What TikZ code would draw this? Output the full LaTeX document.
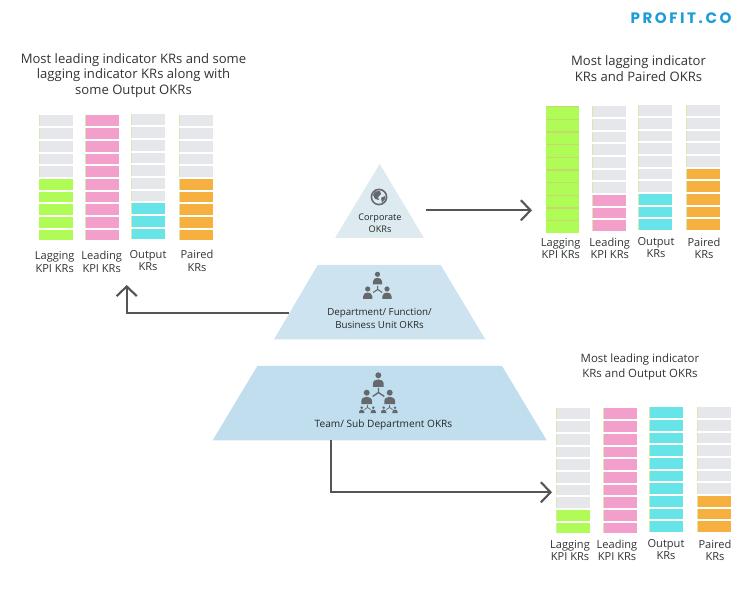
\documentclass[tikz,border=0pt]{standalone}
\usepackage{fontspec}
\usepackage{tikz}
\usetikzlibrary{arrows.meta}
\setmainfont{Open Sans}
\newfontfamily\logofont[LetterSpace=17]{Poppins}

\definecolor{krgray}{HTML}{E6E7EA}
\definecolor{krstrip}{HTML}{D8E8AC}
\definecolor{krgreen}{HTML}{AEFC55}
\definecolor{krline}{HTML}{C4DA6E}
\definecolor{krpink}{HTML}{F29FCB}
\definecolor{krcyan}{HTML}{67E4E8}
\definecolor{krorange}{HTML}{F5B040}
\definecolor{corpblue}{HTML}{DDEAF0}
\definecolor{deptblue}{HTML}{CDE4F0}
\definecolor{teamblue}{HTML}{C1DEEF}
\definecolor{icongray}{HTML}{66696C}
\definecolor{arrowgray}{HTML}{555555}
\definecolor{txtgray}{HTML}{303335}
\definecolor{logoblue}{HTML}{1C9CD8}

% столбик: x, верх, сколько закрашено, цвет
\newcommand{\krstack}[4]{
    \foreach \i in {0,...,9} {
        \pgfmathsetmacro{\celly}{#2+12.67*\i+0.2}
        \pgfmathtruncatemacro{\isfilled}{\i>=10-#3}
        \ifnum\isfilled=1 \def\cellcol{#4}\else\def\cellcol{krgray}\fi
        \fill[\cellcol] (#1,\celly) rectangle ++(34.3,10.9);
        \fill[krstrip] (#1,\celly) rectangle ++(1,10.9);
    }
}
% столбик целиком зелёный
\newcommand{\krsolid}[4]{
    \foreach \i in {0,...,9} {
        \pgfmathsetmacro{\celly}{#2+12.67*\i+0.2}
        \pgfmathtruncatemacro{\isfilled}{\i>=10-#3}
        \ifnum\isfilled=1 \def\cellcol{#4}\else\def\cellcol{krgray}\fi
        \fill[\cellcol] (#1,\celly) rectangle ++(34.3,10.9);
    }
}
% человечек: x, y головы, масштаб
\newcommand{\person}[3]{
    \begin{scope}[shift={(#1,#2)},scale=#3]
        \fill[icongray] (0,0) circle (2.6);
        \fill[icongray] (-4.7,10) -- (-4.7,7.5) .. controls (-4.7,4.5) and (-2,3.6) .. (0,3.6)
            .. controls (2,3.6) and (4.7,4.5) .. (4.7,7.5) -- (4.7,10) -- cycle;
    \end{scope}
}
% развилка под человечком
\newcommand{\branch}[3]{
    \draw[icongray,line width=#3*0.6pt] (#1,#2) -- ++(0,3.5*#3) -- ++(-4.5*#3,3*#3) ++(4.5*#3,-3*#3) -- ++(4.5*#3,3*#3);
}

\begin{document}
\begin{tikzpicture}[x=0.02cm,y=-0.02cm,>={Straight Barb[length=5.5pt,width=11.5pt]},
    krlabel/.style={align=center,inner sep=0pt,text=txtgray,font=\fontsize{6.3}{7.1}\selectfont},
    heading/.style={align=center,inner sep=0pt,text=txtgray,font=\fontsize{7.45}{8.8}\selectfont},
    levelname/.style={align=center,inner sep=0pt,text=black!85,font=\fontsize{5.55}{7.1}\selectfont},
    flow/.style={arrowgray,line width=1.2pt,->}]
    \useasboundingbox (0,0) rectangle (750,590);

    \node[inner sep=0pt,text=logoblue] (logo) at (681,18) {\logofont\fontsize{8.6}{10}\selectfont\bfseries PROFIT.CO};

    % пирамида
    \fill[corpblue] (379.7,164) -- (424,238) -- (335,238) -- cycle;
    \fill[deptblue] (317.7,265) -- (440.7,265) -- (485.3,339.3) -- (274,339.3) -- cycle;
    \fill[teamblue] (257.3,366) -- (502,366) -- (546.7,440.3) -- (212.7,440.3) -- cycle;

    \node[levelname,font=\fontsize{5.2}{7.1}\selectfont] (corp) at (380,223) {Corporate\\OKRs};
    \node[levelname] (dept) at (379.5,318.5) {Department/ Function/\\Business Unit OKRs};
    \node[levelname,font=\fontsize{5.75}{7.1}\selectfont] (team) at (383.5,425) {Team/ Sub Department OKRs};

    % значки
    \draw[icongray,line width=0.9pt] (379,197) circle (7.6);
    \fill[icongray] (375,191.5) -- (380,191) -- (381,194) -- (378,197) -- (379,200) -- (375,199) -- (373,195) -- cycle;
    \fill[icongray] (381,198) -- (385,196) -- (385,199) -- (382,203) -- cycle;

    \person{377.5}{274.3}{1}
    \person{367.7}{289}{1}
    \person{387}{289}{1}
    \branch{377.7}{286}{1}

    \person{378.3}{375.3}{1.15}
    \person{366.7}{392.7}{1.15}
    \person{389.7}{392.7}{1.15}
    \branch{378.5}{388}{1.3}
    \person{361.7}{407.7}{0.55}
    \person{373.3}{407.7}{0.55}
    \person{383.7}{407.7}{0.55}
    \person{395}{407.7}{0.55}
    \branch{367.5}{405}{0.7}
    \branch{389.5}{405}{0.7}

    % слева
    \node[heading] (headleft) at (133.5,75.5) {Most leading indicator KRs and some\\lagging indicator KRs along with\\some Output OKRs};
    \krsolid{39}{115.3}{5}{krgreen}
    \foreach \i in {0,...,4} \fill[krstrip] (39,115.5+12.67*\i) rectangle ++(1,10.9);
    \krstack{85}{115.3}{10}{krpink}
    \krstack{131}{114.3}{3}{krcyan}
    \krstack{179}{115.3}{5}{krorange}
    \node[krlabel] (lagleft) at (54.7,262) {Lagging\\KPI KRs};
    \node[krlabel] (leadleft) at (101.7,262) {Leading\\KPI KRs};
    \node[krlabel] (outleft) at (148,260.5) {Output\\KRs};
    \node[krlabel] (pairleft) at (197,261) {Paired\\KRs};

    % справа вверху
    \node[heading] (headtop) at (638.5,68.5) {Most lagging indicator\\KRs and Paired OKRs};
    \fill[krgreen] (546,106) rectangle (579,233.3);
    \foreach \i in {0,...,9} \fill[krline] (546,106+12.67*\i) rectangle ++(33,1.2);
    \krstack{592}{106}{3}{krpink}
    \krstack{638}{105}{3}{krcyan}
    \krstack{686}{105}{5}{krorange}
    \node[krlabel] (lagtop) at (560.7,248.5) {Lagging\\KPI KRs};
    \node[krlabel] (leadtop) at (609.7,248.5) {Leading\\KPI KRs};
    \node[krlabel] (outtop) at (656,247.5) {Output\\KRs};
    \node[krlabel] (pairtop) at (704,248.5) {Paired\\KRs};

    % справа внизу
    \node[heading,font=\fontsize{6.5}{8.9}\selectfont] (headlow) at (640,367) {Most leading indicator\\KRs and Output OKRs};
    \krstack{556}{408.3}{2}{krgreen}
    \krstack{602.7}{408.3}{10}{krpink}
    \krstack{648.7}{407}{10}{krcyan}
    \krstack{696.7}{407}{3}{krorange}
    \node[krlabel] (laglow) at (570,550.5) {Lagging\\KPI KRs};
    \node[krlabel] (leadlow) at (617,550.5) {Leading\\KPI KRs};
    \node[krlabel] (outlow) at (666,549.5) {Output\\KRs};
    \node[krlabel] (pairlow) at (715,550.5) {Paired\\KRs};

    % стрелки
    \coordinate (corpout) at (426,210.3);
    \coordinate (topin) at (532,210.3);
    \coordinate (deptout) at (289,312.8);
    \coordinate (leftin) at (126.7,285);
    \coordinate (teamout) at (331.3,440.3);
    \coordinate (lowin) at (552,492.3);
    \draw[flow] (corpout) -- (topin);
    \draw[flow] (deptout) -| (leftin);
    \draw[flow] (teamout) |- (lowin);
\end{tikzpicture}
\end{document}
